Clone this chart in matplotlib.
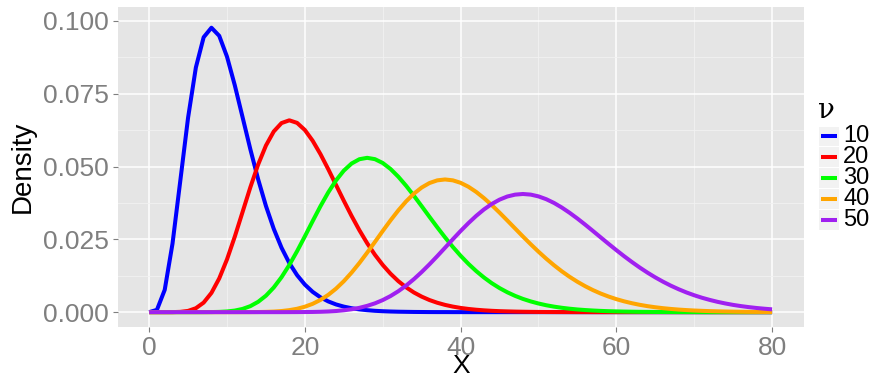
import matplotlib
matplotlib.use("Agg")
import matplotlib.pyplot as plt
from matplotlib.patches import Rectangle

# x grid (step 1, 0..80) and density values
x = list(range(81))

nu10 = [0.0, 0.00079, 0.00766, 0.02353, 0.04511, 0.06680, 0.08402, 0.09441, 0.09768, 0.09490,
        0.08773, 0.07791, 0.06693, 0.05591, 0.04561, 0.03646, 0.02863, 0.02213, 0.01687, 0.01270,
        0.00946, 0.00697, 0.00509, 0.00369, 0.00265, 0.00190, 0.00135, 0.00095, 0.00067, 0.00046,
        0.00032, 0.00022, 0.00015, 0.00011, 0.00007, 0.00005, 0.00003, 0.00002, 0.00002, 0.00001,
        0.00001, 0, 0, 0, 0, 0, 0, 0, 0, 0,
        0, 0, 0, 0, 0, 0, 0, 0, 0, 0,
        0, 0, 0, 0, 0, 0, 0, 0, 0, 0,
        0, 0, 0, 0, 0, 0, 0, 0, 0, 0,
        0]
nu20 = [0.0, 0.0, 0.0, 0.00001, 0.00010, 0.00043, 0.00135, 0.00328, 0.00661, 0.01158,
        0.01813, 0.02594, 0.03442, 0.04291, 0.05071, 0.05722, 0.06204, 0.06494, 0.06588, 0.06500,
        0.06255, 0.05886, 0.05427, 0.04911, 0.04368, 0.03826, 0.03303, 0.02814, 0.02367, 0.01969,
        0.01621, 0.01320, 0.01065, 0.00853, 0.00676, 0.00533, 0.00416, 0.00323, 0.00249, 0.00191,
        0.00145, 0.00110, 0.00083, 0.00062, 0.00046, 0.00034, 0.00026, 0.00019, 0.00014, 0.00010,
        0.00007, 0.00005, 0.00004, 0.00003, 0.00002, 0.00001, 0.00001, 0, 0, 0,
        0, 0, 0, 0, 0, 0, 0, 0, 0, 0,
        0, 0, 0, 0, 0, 0, 0, 0, 0, 0,
        0]
nu30 = [0.0, 0.0, 0.0, 0.0, 0.0, 0.0, 0.0, 0.00001, 0.00003, 0.00009,
        0.00024, 0.00054, 0.00111, 0.00207, 0.00355, 0.00565, 0.00846, 0.01200, 0.01620, 0.02094,
        0.02604, 0.03127, 0.03638, 0.04111, 0.04525, 0.04860, 0.05105, 0.05252, 0.05300, 0.05254,
        0.05122, 0.04917, 0.04651, 0.04341, 0.03998, 0.03639, 0.03274, 0.02915, 0.02568, 0.02240,
        0.01937, 0.01660, 0.01411, 0.01190, 0.00995, 0.00827, 0.00682, 0.00559, 0.00455, 0.00369,
        0.00297, 0.00237, 0.00189, 0.00150, 0.00118, 0.00092, 0.00072, 0.00056, 0.00043, 0.00033,
        0.00026, 0.00020, 0.00015, 0.00011, 0.00009, 0.00006, 0.00005, 0.00004, 0.00003, 0.00002,
        0.00002, 0.00001, 0, 0, 0, 0, 0, 0, 0, 0,
        0]
nu40 = [0.0, 0.0, 0.0, 0.0, 0.0, 0.0, 0.0, 0.0, 0.0, 0.0,
        0.0, 0.0, 0.00001, 0.00002, 0.00004, 0.00010, 0.00020, 0.00038, 0.00069, 0.00116,
        0.00187, 0.00286, 0.00420, 0.00593, 0.00807, 0.01063, 0.01359, 0.01688, 0.02043, 0.02413,
        0.02788, 0.03152, 0.03495, 0.03804, 0.04069, 0.04280, 0.04434, 0.04526, 0.04557, 0.04527,
        0.04442, 0.04307, 0.04129, 0.03916, 0.03677, 0.03418, 0.03147, 0.02873, 0.02599, 0.02333,
        0.02077, 0.01835, 0.01610, 0.01402, 0.01213, 0.01043, 0.00891, 0.00756, 0.00638, 0.00536,
        0.00447, 0.00371, 0.00307, 0.00252, 0.00206, 0.00168, 0.00136, 0.00110, 0.00088, 0.00071,
        0.00056, 0.00045, 0.00035, 0.00028, 0.00022, 0.00017, 0.00013, 0.00010, 0.00008, 0.00006,
        0.00005]
nu50 = [0.0, 0.0, 0.0, 0.0, 0.0, 0.0, 0.0, 0.0, 0.0, 0.0,
        0.0, 0.0, 0.0, 0.0, 0.0, 0.0, 0.0, 0.0, 0.00001, 0.00002,
        0.00004, 0.00007, 0.00013, 0.00023, 0.00039, 0.00064, 0.00099, 0.00148, 0.00216, 0.00303,
        0.00415, 0.00553, 0.00719, 0.00912, 0.01133, 0.01378, 0.01643, 0.01923, 0.02212, 0.02503,
        0.02787, 0.03057, 0.03306, 0.03528, 0.03715, 0.03864, 0.03972, 0.04036, 0.04058, 0.04037,
        0.03976, 0.03879, 0.03750, 0.03592, 0.03412, 0.03215, 0.03005, 0.02787, 0.02566, 0.02346,
        0.02130, 0.01921, 0.01722, 0.01533, 0.01357, 0.01194, 0.01045, 0.00909, 0.00787, 0.00677,
        0.00580, 0.00494, 0.00420, 0.00354, 0.00298, 0.00249, 0.00208, 0.00173, 0.00143, 0.00118,
        0.00096]

series = [nu10, nu20, nu30, nu40, nu50]
labels = ["10", "20", "30", "40", "50"]
colors = ["#0000FF", "#FF0000", "#00FF00", "#FFA500", "#A020F0"]

xticks = [0, 20, 40, 60, 80]
yticks = [0.000, 0.025, 0.050, 0.075, 0.100]
ytick_labels = ["0.000", "0.025", "0.050", "0.075", "0.100"]

plt.rcParams['font.family'] = ['Liberation Sans', 'DejaVu Sans']

fig = plt.figure(figsize=(8.75, 3.8), dpi=100)
ax = fig.add_axes([118 / 875, 53 / 380, 686 / 875, 320 / 380])

ax.set_facecolor("#E5E5E5")
for s in ax.spines.values():
    s.set_visible(False)

ax.set_xlim(-4, 84.1)
ax.set_ylim(-0.0051, 0.1048)

ax.set_xticks(xticks)
ax.set_xticks([10, 30, 50, 70], minor=True)
ax.set_yticks(yticks)
ax.set_yticklabels(ytick_labels)
ax.set_yticks([0.0125, 0.0375, 0.0625, 0.0875], minor=True)

ax.grid(which="major", color="white", linewidth=1.1)
ax.grid(which="minor", color="#F2F2F2", linewidth=0.6)
ax.set_axisbelow(True)

ax.tick_params(which="major", length=3.5, width=0.8, color="#7F7F7F",
               labelcolor="#7F7F7F", labelsize=19, pad=3)
ax.tick_params(which="minor", length=0)

for ys, c in zip(series, colors):
    ax.plot(x, ys, color=c, linewidth=2.9, solid_capstyle="butt", zorder=3)

ax.set_xlabel("X", fontsize=19)
ax.xaxis.label.set_va("baseline")
ax.xaxis.set_label_coords(0.5, -(373 - 327) / 320)
ax.set_ylabel("Density", fontsize=20)
ax.yaxis.label.set_va("center")
ax.yaxis.set_label_coords(-(118 - 23) / 686, 0.5)

# legend, drawn by hand to get ggplot-style key boxes
fig.text(818 / 875, 1 - 110 / 380, "ν", fontsize=20, family="DejaVu Serif",
         va="center", ha="left")
key_top = 126
key_h = 20.8
for i, (lab, c) in enumerate(zip(labels, colors)):
    y0 = key_top + i * key_h
    fig.patches.append(Rectangle((819 / 875, 1 - (y0 + key_h - 0.5) / 380), 20 / 875,
                                 (key_h - 1) / 380, transform=fig.transFigure,
                                 facecolor="#F2F2F2", edgecolor="none"))
    yc = 1 - (y0 + key_h / 2) / 380
    fig.lines.append(plt.Line2D([821 / 875, 837 / 875], [yc, yc], transform=fig.transFigure,
                                color=c, linewidth=2.9, solid_capstyle="butt"))
    fig.text(843 / 875, yc, lab, fontsize=17, va="center", ha="left")

fig.savefig("out.png", dpi=100)
